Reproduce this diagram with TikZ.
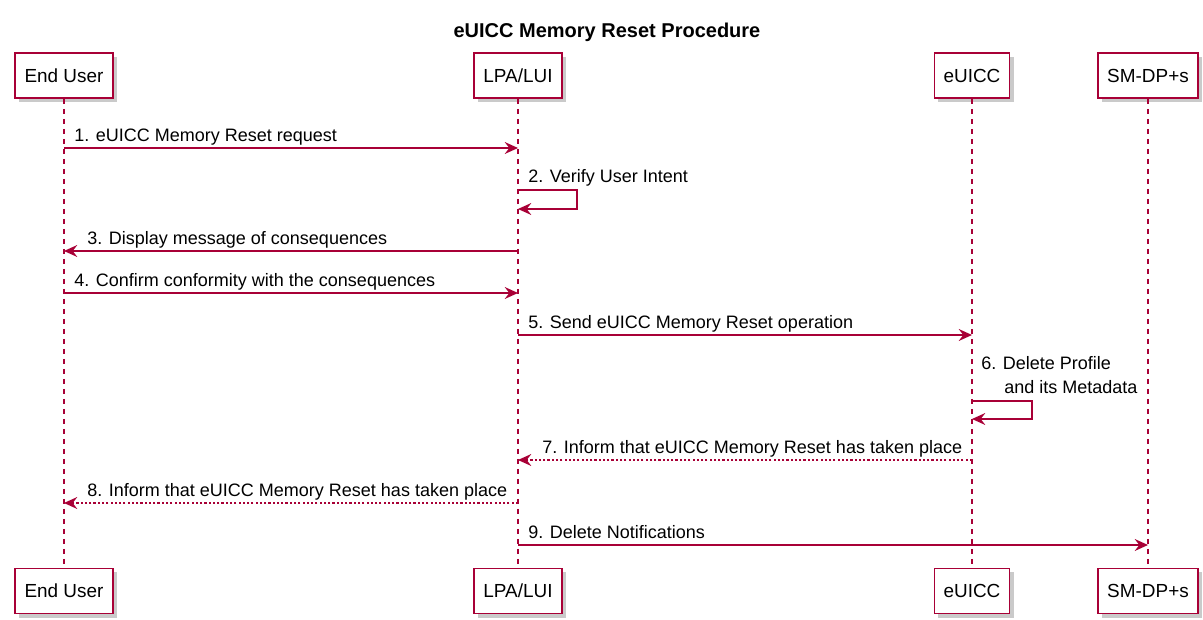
\documentclass[tikz,border=0pt]{standalone}
\usepackage{fontspec}
\setmainfont{Liberation Sans}
\usetikzlibrary{arrows.meta,shadows}
\definecolor{umlred}{HTML}{A80036}
\newcommand{\msgfont}{\fontsize{13.5}{15}\selectfont}

\begin{document}
\begin{tikzpicture}[x=0.75pt,y=-0.75pt,
    actor/.style={draw=umlred,line width=1.1pt,fill=white,
        minimum height=34pt,inner xsep=7pt,
        font=\fontsize{14.2}{16}\selectfont,
        drop shadow={shadow xshift=3pt,shadow yshift=-3pt,opacity=0.35,fill=black!60}},
    life/.style={draw=umlred,line width=0.8pt,dash pattern=on 3.75pt off 3.75pt},
    msg/.style={draw=umlred,line width=0.9pt,
        -{Stealth[length=10pt,width=9pt,inset=3.5pt]}},
    reply/.style={msg,dash pattern=on 1.6pt off 1.6pt},
    lbl/.style={anchor=base west,inner sep=0pt,font=\msgfont}]
    \useasboundingbox (0,0) rectangle (1203,620);

    \node[font=\bfseries\fontsize{15}{17}\selectfont] (title) at (607,32) {eUICC Memory Reset Procedure};

    % participants, top and bottom
    \node[actor] (usrT) at (64,75.5)   {End User};
    \node[actor] (lpaT) at (518,75.5)  {LPA/LUI};
    \node[actor] (eucT) at (972,75.5)  {eUICC};
    \node[actor] (dpT)  at (1148,75.5) {SM-DP+s};
    \node[actor] (usrB) at (64,591)    {End User};
    \node[actor] (lpaB) at (518,591)   {LPA/LUI};
    \node[actor] (eucB) at (972,591)   {eUICC};
    \node[actor] (dpB)  at (1148,591)  {SM-DP+s};

    % lifelines
    \draw[life] (usrT) -- (usrB);
    \draw[life] (lpaT) -- (lpaB);
    \draw[life] (eucT) -- (eucB);
    \draw[life] (dpT) -- (dpB);

    % messages
    \draw[msg] (usrT |- 0,148) -- (lpaT |- 0,148);
    \node[lbl] (m1) at (74,141.5) {1. eUICC Memory Reset request};

    \draw[msg] (lpaT |- 0,190) -- ++(59,0) -- ++(0,19) -- (lpaT |- 0,209);
    \node[lbl] (m2) at (528,183) {2. Verify User Intent};

    \draw[msg] (lpaT |- 0,251) -- (usrT |- 0,251);
    \node[lbl] (m3) at (87,244.5) {3. Display message of consequences};

    \draw[msg] (usrT |- 0,293) -- (lpaT |- 0,293);
    \node[lbl] (m4) at (74,286.5) {4. Confirm conformity with the consequences};

    \draw[msg] (lpaT |- 0,335) -- (eucT |- 0,335);
    \node[lbl] (m5) at (528,328.5) {5. Send eUICC Memory Reset operation};

    \draw[msg] (eucT |- 0,401) -- ++(60,0) -- ++(0,18) -- (eucT |- 0,419);
    \node[lbl] (m6a) at (981,369.5) {6. Delete Profile};
    \node[lbl] (m6b) at (1004,393.5) {and its Metadata};

    \draw[reply] (eucT |- 0,460) -- (lpaT |- 0,460);
    \node[lbl] (m7) at (542,453.5) {7. Inform that eUICC Memory Reset has taken place};

    \draw[reply] (lpaT |- 0,503) -- (usrT |- 0,503);
    \node[lbl] (m8) at (87,496.5) {8. Inform that eUICC Memory Reset has taken place};

    \draw[msg] (lpaT |- 0,545) -- (dpT |- 0,545);
    \node[lbl] (m9) at (528,538.5) {9. Delete Notifications};
\end{tikzpicture}
\end{document}
